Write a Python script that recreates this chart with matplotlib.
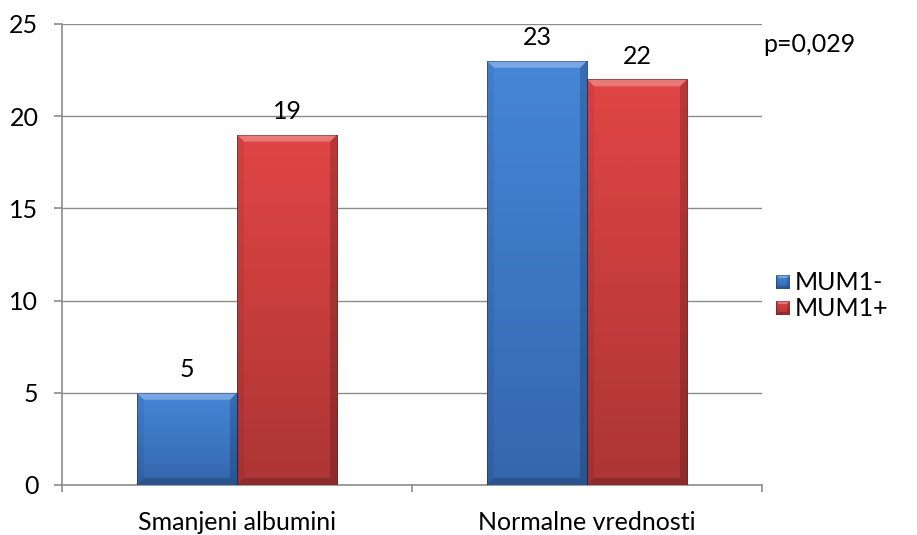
import numpy as np
import matplotlib.pyplot as plt
from matplotlib.patches import Polygon, Rectangle
from matplotlib.colors import LinearSegmentedColormap

categories = ["Smanjeni albumini", "Normalne vrednosti"]
series_names = ["MUM1-", "MUM1+"]
mum1_neg = [5, 23]
mum1_pos = [19, 22]
p_text = "p=0,029"

# (top colour, bottom colour) per series
colors = [("#4586d8", "#3467ad"), ("#e14545", "#ad3535")]

plt.rcParams['font.family'] = ["Lato", "DejaVu Sans"]
FS = 18


def bevel_bar(ax, x0, w, h, cols, bev_px=7):
    # convert bevel size from pixels to data units
    inv = ax.transData.inverted()
    o = ax.transData.transform((0, 0))
    bx, by = inv.transform(o + np.array([bev_px, bev_px])) - inv.transform(o)
    x1 = x0 + w
    cmap = LinearSegmentedColormap.from_list("g", [cols[1], cols[0]])
    grad = np.linspace(0, 1, 64).reshape(-1, 1)
    im = ax.imshow(grad, cmap=cmap, origin="lower", aspect="auto",
                   extent=(x0, x1, 0, h), zorder=3, interpolation="bilinear")
    clip = Rectangle((x0, 0), w, h, transform=ax.transData, facecolor="none", edgecolor="none")
    ax.add_patch(clip)
    im.set_clip_path(clip)
    # top, left, right, bottom facets
    facets = [
        ([(x0, h), (x1, h), (x1 - bx, h - by), (x0 + bx, h - by)], "white", 0.28),
        ([(x0, 0), (x0, h), (x0 + bx, h - by), (x0 + bx, by)], "black", 0.06),
        ([(x1, 0), (x1, h), (x1 - bx, h - by), (x1 - bx, by)], "black", 0.18),
        ([(x0, 0), (x1, 0), (x1 - bx, by), (x0 + bx, by)], "black", 0.18),
    ]
    for pts, fc, a in facets:
        ax.add_patch(Polygon(pts, facecolor=fc, alpha=a, edgecolor="none", zorder=4))
    ax.add_patch(Rectangle((x0, 0), w, h, facecolor="none",
                           edgecolor=(0, 0, 0, 0.35), linewidth=0.6, zorder=5))


fig = plt.figure(figsize=(9.17, 5.35), dpi=100)
ax = fig.add_axes([0.0676, 0.0935, 0.7634, 0.8617])
ax.set_xlim(0, 2)
ax.set_ylim(0, 25)

grid_c = "#8c8c8c"
ax.set_yticks(range(0, 26, 5))
ax.yaxis.grid(True, color=grid_c, linewidth=1.0, zorder=0)
ax.set_axisbelow(True)
for s in ["top", "right"]:
    ax.spines[s].set_visible(False)
for s in ["left", "bottom"]:
    ax.spines[s].set_color(grid_c)
    ax.spines[s].set_linewidth(1.2)
ax.tick_params(axis="y", length=6, color=grid_c, width=1.2, labelsize=FS, pad=11)
ax.set_xticks([0, 1, 2])
ax.set_xticklabels([])
ax.tick_params(axis="x", length=5, color=grid_c, width=1.2)
for i, c in enumerate(categories):
    ax.text(i + 0.5, -2.05, c, ha="center", va="center", fontsize=FS)

bw = 0.286
centers = np.arange(len(categories)) + 0.5
for vals, col, off in [(mum1_neg, colors[0], -bw), (mum1_pos, colors[1], 0.0)]:
    for cx, v in zip(centers, vals):
        bevel_bar(ax, cx + off, bw, v, col)
        ax.text(cx + off + bw / 2, v + 1.25, str(v), ha="center", va="center", fontsize=FS)

fig.text(763 / 917, 1 - 45 / 535, p_text, ha="left", va="center", fontsize=FS)

# legend with small bevelled squares
for k, (name, col) in enumerate(zip(series_names, colors)):
    yc = 282 + 26 * k
    lax = fig.add_axes([776 / 917, 1 - (yc + 7) / 535, 14 / 917, 14 / 535])
    lax.set_xlim(0, 1)
    lax.set_ylim(0, 1)
    lax.axis("off")
    bevel_bar(lax, 0, 1, 1, col, bev_px=3)
    fig.text(795 / 917, 1 - yc / 535, name, ha="left", va="center", fontsize=FS)

fig.savefig("out.png", dpi=100)
